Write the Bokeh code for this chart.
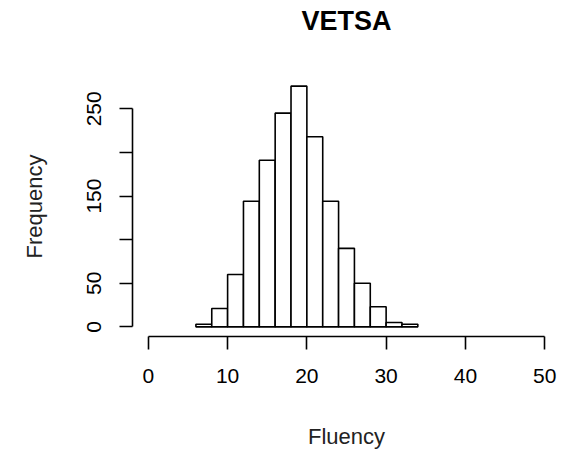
from bokeh.plotting import figure
from bokeh.models import Range1d, FixedTicker, Title
from bokeh.embed import file_html
from bokeh.resources import INLINE

# Histogram of fluency scores, bins of width 2
bin_edges = [6, 8, 10, 12, 14, 16, 18, 20, 22, 24, 26, 28, 30, 32, 34]
counts = [3, 21, 60, 144, 191, 245, 276, 218, 144, 90, 50, 23, 5, 3]
x_ticks = [0, 10, 20, 30, 40, 50]
y_ticks = [0, 50, 100, 150, 200, 250]
y_tick_labels = {0: "0", 50: "50", 100: "", 150: "150", 200: "", 250: "250"}
title_text = "VETSA"

FONT = "Liberation Sans"

ymax = max(counts)
p = figure(
    width=569, height=454,
    x_range=Range1d(-2, 52),
    y_range=Range1d(-0.04 * ymax, 1.04 * ymax),
    output_backend="svg", toolbar_location=None,
    min_border_left=132, min_border_right=9,
    min_border_top=76, min_border_bottom=118,
)
p.outline_line_color = None
p.xgrid.grid_line_color = None
p.ygrid.grid_line_color = None
p.background_fill_color = "white"
p.border_fill_color = "white"

# blank spacer between the bars and the title
p.add_layout(Title(text=" ", text_font_size="10px", standoff=26), "above")
# main title, stacked above the spacer
p.add_layout(Title(
    text=title_text, text_font=FONT, text_font_size="27px",
    text_font_style="bold", text_color="black", align="center", standoff=4,
), "above")

p.quad(left=bin_edges[:-1], right=bin_edges[1:], bottom=0, top=counts,
       fill_color="white", line_color="black", line_width=1.6)

for ax in (p.xaxis[0], p.yaxis[0]):
    ax.axis_line_color = "black"
    ax.axis_line_width = 1.6
    ax.major_tick_line_color = "black"
    ax.major_tick_line_width = 1.6
    ax.major_tick_out = 13
    ax.major_tick_in = 0
    ax.minor_tick_line_color = None
    ax.major_label_text_font = FONT
    ax.major_label_text_font_size = "21px"
    ax.major_label_text_color = "black"
    ax.axis_label_text_font = FONT
    ax.axis_label_text_font_size = "22px"
    ax.axis_label_text_font_style = "normal"
    ax.axis_label_text_color = "#222222"

p.xaxis.ticker = FixedTicker(ticks=x_ticks)
p.xaxis.bounds = (0, 50)
p.xaxis.axis_label = "Fluency"
p.xaxis.major_label_standoff = 19
p.xaxis.axis_label_standoff = 38

p.yaxis.ticker = FixedTicker(ticks=y_ticks)
p.yaxis.major_label_overrides = y_tick_labels
p.yaxis.bounds = (0, 250)
p.yaxis.axis_label = "Frequency"
p.yaxis.major_label_orientation = "vertical"
p.yaxis.major_label_standoff = 18
p.yaxis.axis_label_standoff = 38

open("out.html", "w").write(file_html(p, INLINE))
